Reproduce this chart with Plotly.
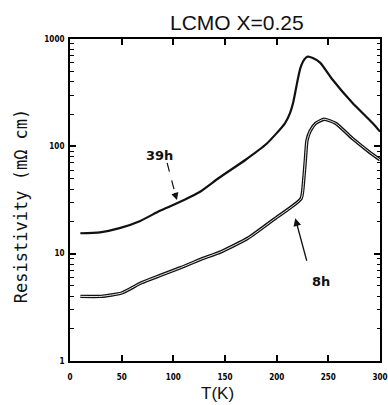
import plotly.graph_objects as go

# ---- data ----
T_39h = [10, 29, 48, 68, 87, 103, 125, 144, 170, 190, 208, 213, 216, 220, 223,
         227, 230, 235, 242, 253, 273, 293, 300]
rho_39h = [15.5, 15.8, 17.3, 20.2, 25.1, 29.3, 37.3, 50.7, 75, 105, 164, 205,
           256, 400, 538, 649, 684, 664, 602, 431, 256, 164, 137]

T_8h = [10, 30, 50, 69, 88, 107, 127, 146, 172, 198, 223.6, 226.3, 227.9, 229.3,
        232.4, 237.8, 245.9, 257, 274, 290, 300]
rho_8h = [4.0, 4.0, 4.3, 5.35, 6.3, 7.4, 8.9, 10.4, 13.9, 21.1, 32.5, 50.4, 78,
          113, 139, 164, 179, 164, 117, 88, 75]

x_ticks = [0, 50, 100, 150, 200, 250, 300]
x_ticklabels = ["0", "50", "100", "150", "200", "250", "300"]
y_ticks = [1, 10, 100, 1000]
y_ticklabels = ["1", "10", "100", "1000"]

title_text = "LCMO X=0.25"
xlabel = "T(K)"
ylabel = "Resistivity (mΩ cm)"

fig = go.Figure()
fig.add_trace(go.Scatter(x=T_39h, y=rho_39h, mode="lines",
                         line=dict(color="#111", width=2.2, shape="spline", smoothing=0.6),
                         showlegend=False))
fig.add_trace(go.Scatter(x=T_8h, y=rho_8h, mode="lines",
                         line=dict(color="#111", width=3.4, shape="spline", smoothing=0.5),
                         showlegend=False))
fig.add_trace(go.Scatter(x=T_8h, y=rho_8h, mode="lines",
                         line=dict(color="#fff", width=0.9, shape="spline", smoothing=0.5),
                         showlegend=False))

xtickfont = dict(family="DejaVu Sans Condensed", size=8, color="#000", weight="bold")
ytickfont = dict(family="DejaVu Sans Condensed", size=8, color="#000", weight="bold")

fig.update_xaxes(range=[0, 300], tickvals=x_ticks, ticktext=x_ticklabels,
                 ticks="inside", ticklen=6, tickwidth=1.5, tickcolor="#000",
                 showline=True, linecolor="#000", linewidth=2, mirror="ticks",
                 showgrid=False, zeroline=False, tickfont=xtickfont,
                 ticklabelstandoff=7, ticklabeloverflow="allow", automargin=False)
fig.update_yaxes(type="log", range=[0, 3], tickvals=y_ticks, ticktext=y_ticklabels,
                 ticks="inside", ticklen=6, tickwidth=1.5, tickcolor="#000",
                 showline=True, linecolor="#000", linewidth=2, mirror="ticks",
                 showgrid=False, zeroline=False, tickfont=ytickfont,
                 ticklabelstandoff=2, ticklabeloverflow="allow", automargin=False,
                 minor=dict(dtick="D1", ticks="inside", ticklen=3.5,
                            tickwidth=1.2, tickcolor="#000", showgrid=False))

annotations = [
    dict(text=title_text, xref="paper", yref="paper", x=0.538, y=1.05,
         xanchor="center", yanchor="middle", showarrow=False,
         font=dict(family="Liberation Sans", size=21, color="#111")),
    dict(text=xlabel, xref="paper", yref="paper", x=0.476, y=-0.137,
         xanchor="center", yanchor="bottom", showarrow=False,
         font=dict(family="Liberation Sans", size=17, color="#111")),
    dict(text=ylabel, xref="paper", yref="paper", x=-0.158, y=0.481,
         xanchor="center", yanchor="middle", showarrow=False, textangle=-90,
         font=dict(family="DejaVu Sans Mono", size=17, color="#111")),
    # 39h label
    dict(text="<b>39h</b>", xref="x", yref="y", x=87, y=1.91, showarrow=False,
         font=dict(family="DejaVu Sans", size=13, color="#111")),
    # arrowhead at end of dashed 39h arrow
    dict(text="", xref="x", yref="y", x=103.5, y=1.50, axref="x", ayref="y",
         ax=101, ay=1.58, showarrow=True, arrowhead=2, arrowsize=1.2,
         arrowwidth=1.2, arrowcolor="#111"),
    # 8h label and arrow
    dict(text="<b>8h</b>", xref="x", yref="y", x=243, y=0.745, showarrow=False,
         font=dict(family="DejaVu Sans", size=13, color="#111")),
    dict(text="", xref="x", yref="y", x=218, y=1.33, axref="x", ayref="y",
         ax=229.5, ay=0.92, showarrow=True, arrowhead=2, arrowsize=1.2,
         arrowwidth=1.3, arrowcolor="#111"),
]

shapes = [
    dict(type="line", xref="x", yref="y", x0=94, y0=10 ** 1.845, x1=101.5, y1=10 ** 1.57,
         line=dict(color="#111", width=1.2, dash="dash")),
]

fig.update_layout(width=388, height=405, margin=dict(l=70, r=8, t=39, b=44),
                  paper_bgcolor="white", plot_bgcolor="white",
                  annotations=annotations, shapes=shapes, showlegend=False)

fig.write_html("out.html", config={"displayModeBar": False},
               post_script="document.body.style.margin='0';document.body.style.overflow='hidden';")
